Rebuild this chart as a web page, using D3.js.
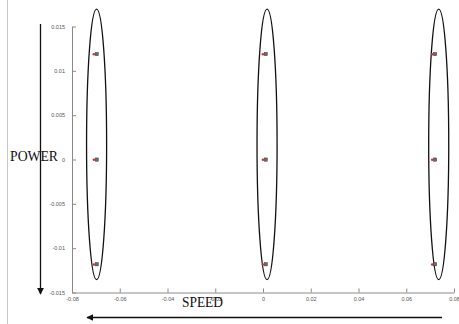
<!DOCTYPE html>
<html>
<head>
<meta charset="utf-8">
<script src="https://cdn.jsdelivr.net/npm/d3@7"></script>
<style>
  html, body { margin: 0; padding: 0; background: #fff; }
  svg { display: block; }
</style>
</head>
<body>
<svg id="chart" width="459" height="324"></svg>
<script>
// ---- data ----
const xTicks = [-0.08, -0.06, -0.04, -0.02, 0, 0.02, 0.04, 0.06, 0.08];
const yTicks = [0.015, 0.01, 0.005, 0, -0.005, -0.01, -0.015];
const xTickLabels = ['-0.08', '-0.06', '-0.04', '-0.02', '0', '0.02', '0.04', '0.06', '0.08'];
const yTickLabels = ['0.015', '0.01', '0.005', '0', '-0.005', '-0.01', '-0.015'];

// cluster centres (speed) and the three power levels in each cluster
const clusterX = [-0.0702, 0.0006, 0.0715];
const clusterY = [0.0119, 0, -0.0118];

// ellipses around each cluster
const ellipseCx = [-0.0697, 0.0017, 0.0736];
const ellipseCy = 0.0017;
const ellipseRx = 0.0042;
const ellipseRy = 0.01525;

const svg = d3.select('#chart');
const W = 459, H = 324;

const x = d3.scaleLinear().domain([-0.08, 0.08]).range([72, 454]);
const y = d3.scaleLinear().domain([-0.015, 0.015]).range([292.5, 26.5]);

// thin grey border line at the left
svg.append('line')
  .attr('x1', 7.5).attr('x2', 7.5)
  .attr('y1', 0).attr('y2', H)
  .attr('stroke', '#c8c8c8').attr('stroke-width', 1);

const tickFont = "'Liberation Sans Narrow', 'Arial Narrow', 'Liberation Sans', sans-serif";

// y axis (ticks point inward)
const yAxis = svg.append('g')
  .attr('transform', `translate(${x(-0.08)},0)`)
  .call(d3.axisLeft(y).tickValues(yTicks)
    .tickFormat((d, i) => yTickLabels[i])
    .tickSizeInner(-4).tickSizeOuter(0).tickPadding(7));

// x axis
const xAxis = svg.append('g')
  .attr('transform', `translate(0,${y(-0.015)})`)
  .call(d3.axisBottom(x).tickValues(xTicks)
    .tickFormat((d, i) => xTickLabels[i])
    .tickSizeInner(-4).tickSizeOuter(0).tickPadding(7));

[yAxis, xAxis].forEach(ax => {
  ax.select('.domain').attr('stroke', '#8a8a8a').attr('stroke-width', 1);
  ax.selectAll('.tick line').attr('stroke', '#8a8a8a');
  ax.selectAll('.tick text')
    .attr('fill', '#555')
    .style('font-family', tickFont)
    .style('font-size', '5.5px');
});
yAxis.selectAll('.tick text').attr('dy', '0.3em');
xAxis.selectAll('.tick text').attr('dy', '0.2em');

// ellipses
svg.append('g').selectAll('ellipse')
  .data(ellipseCx)
  .join('ellipse')
  .attr('cx', d => x(d))
  .attr('cy', y(ellipseCy))
  .attr('rx', x(ellipseRx) - x(0))
  .attr('ry', y(0) - y(ellipseRy))
  .attr('fill', 'none')
  .attr('stroke', '#111')
  .attr('stroke-width', 1.3);

// points: red dot + small dark square
const pts = [];
clusterX.forEach(cx => clusterY.forEach(cy => pts.push({ cx, cy })));

const pg = svg.append('g');
pg.selectAll('circle')
  .data(pts)
  .join('circle')
  .attr('cx', d => x(d.cx) - 1.5)
  .attr('cy', d => y(d.cy) + 0.3)
  .attr('r', 1.3)
  .attr('fill', '#e8262a');
pg.selectAll('rect')
  .data(pts)
  .join('rect')
  .attr('x', d => x(d.cx) - 0.2)
  .attr('y', d => y(d.cy) - 1.6)
  .attr('width', 3.2)
  .attr('height', 3.4)
  .attr('fill', '#6a6a6a')
  .attr('stroke', '#333')
  .attr('stroke-width', 0.4);

// arrows
const defs = svg.append('defs');
defs.append('marker')
  .attr('id', 'arrow')
  .attr('viewBox', '0 0 10 10')
  .attr('refX', 9).attr('refY', 5)
  .attr('markerWidth', 7).attr('markerHeight', 7)
  .attr('markerUnits', 'userSpaceOnUse')
  .attr('orient', 'auto')
  .append('path')
  .attr('d', 'M0,0 L10,5 L0,10 Z')
  .attr('fill', '#111');

svg.append('line')
  .attr('x1', 40.5).attr('y1', 24)
  .attr('x2', 40.5).attr('y2', 294)
  .attr('stroke', '#111').attr('stroke-width', 1.3)
  .attr('marker-end', 'url(#arrow)');

svg.append('line')
  .attr('x1', 442).attr('y1', 317.5)
  .attr('x2', 87).attr('y2', 317.5)
  .attr('stroke', '#111').attr('stroke-width', 1.3)
  .attr('marker-end', 'url(#arrow)');

// labels
const serif = "'Liberation Serif', 'DejaVu Serif', serif";
svg.append('text')
  .attr('x', 10).attr('y', 160.5)
  .attr('font-family', serif)
  .attr('font-size', 14)
  .attr('fill', '#111')
  .attr('textLength', 48)
  .attr('lengthAdjust', 'spacingAndGlyphs')
  .text('POWER');

svg.append('text')
  .attr('x', 182).attr('y', 307)
  .attr('font-family', serif)
  .attr('font-size', 15)
  .attr('fill', '#111')
  .attr('textLength', 41)
  .attr('lengthAdjust', 'spacingAndGlyphs')
  .text('SPEED');
</script>
</body>
</html>
